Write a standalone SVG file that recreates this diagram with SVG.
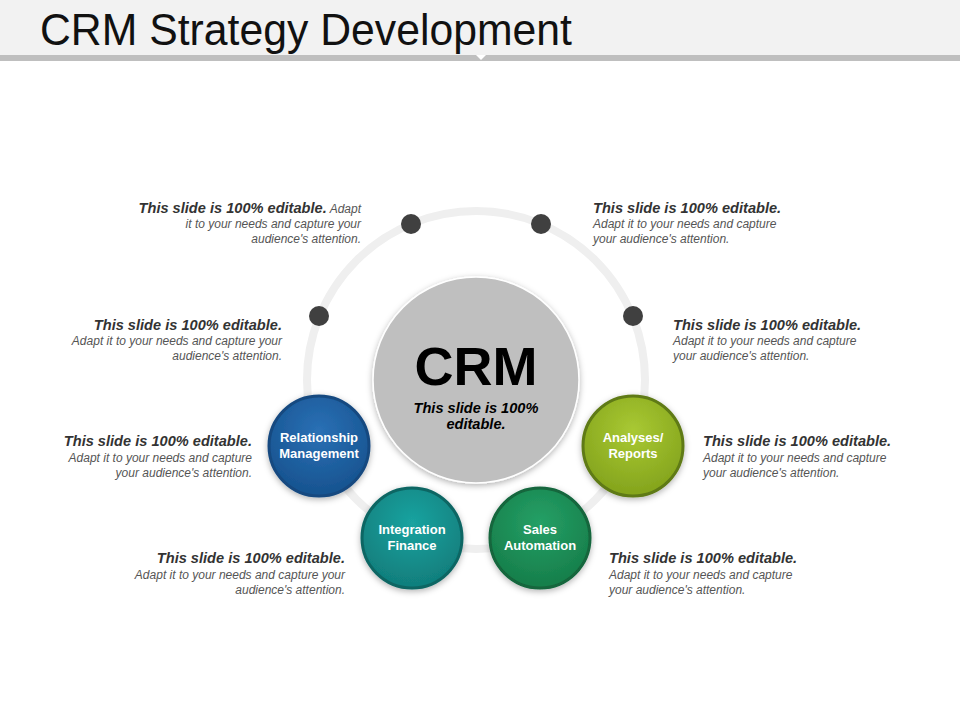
<svg xmlns="http://www.w3.org/2000/svg" width="960" height="720" viewBox="0 0 960 720">
<defs>
<style>
.b{font-family:"Liberation Sans",Arial,sans-serif;font-weight:bold;font-style:italic;font-size:14.6px;fill:#333}
.r{font-family:"Liberation Sans",Arial,sans-serif;font-style:italic;font-size:12px;fill:#555}
.n{font-family:"Liberation Sans",Arial,sans-serif;font-weight:bold;font-size:13px;fill:#fff;text-anchor:middle}
.e{text-anchor:end}
.dot{fill:#404040}
</style>
<radialGradient id="gB" cx="50%" cy="35%" r="60%"><stop offset="0" stop-color="#2a70b5"/><stop offset="1" stop-color="#185592"/></radialGradient>
<radialGradient id="gT" cx="50%" cy="35%" r="60%"><stop offset="0" stop-color="#1aa3a0"/><stop offset="1" stop-color="#11807e"/></radialGradient>
<radialGradient id="gS" cx="50%" cy="35%" r="60%"><stop offset="0" stop-color="#25a066"/><stop offset="1" stop-color="#17804c"/></radialGradient>
<radialGradient id="gA" cx="50%" cy="35%" r="60%"><stop offset="0" stop-color="#a9c933"/><stop offset="1" stop-color="#86a61e"/></radialGradient>
<filter id="sh" x="-20%" y="-20%" width="140%" height="140%"><feDropShadow dx="0" dy="2" stdDeviation="3" flood-color="#000" flood-opacity="0.3"/></filter>
</defs>
<rect width="960" height="720" fill="#fff"/>
<g id="header">
<rect x="0" y="0" width="960" height="55" fill="#f2f2f2"/>
<rect x="0" y="55" width="960" height="6" fill="#bfbfbf"/>
<polygon points="476,55 486,55 481,60" fill="#fff"/>
<text x="40" y="45" font-family="'Liberation Sans',Arial,sans-serif" font-size="45" fill="#111" textLength="532" lengthAdjust="spacingAndGlyphs">CRM Strategy Development</text>
</g>
<g id="connectors">
<circle cx="476" cy="380" r="169" fill="none" stroke="#efefef" stroke-width="8"/>
</g>
<g id="dots">
<circle class="dot" cx="411" cy="224" r="10"/>
<circle class="dot" cx="541" cy="224" r="10"/>
<circle class="dot" cx="319" cy="316" r="10"/>
<circle class="dot" cx="633" cy="316" r="10"/>
</g>
<g id="crm">
<circle cx="476" cy="380" r="103" fill="#bfbfbf" stroke="#fff" stroke-width="1.5" filter="url(#sh)"/>
<text x="476" y="385" font-family="'Liberation Sans',Arial,sans-serif" font-weight="bold" font-size="54" fill="#000" text-anchor="middle">CRM</text>
<text x="476" y="413" class="b" text-anchor="middle" style="fill:#000">This slide is 100%</text>
<text x="476" y="429" class="b" text-anchor="middle" style="fill:#000">editable.</text>
</g>
<g id="relationship">
<circle cx="319" cy="446" r="50" fill="url(#gB)" stroke="#164a80" stroke-width="3" filter="url(#sh)"/>
<text class="n" x="319" y="442">Relationship</text>
<text class="n" x="319" y="458">Management</text>
</g>
<g id="integration">
<circle cx="412" cy="538" r="50" fill="url(#gT)" stroke="#0d6664" stroke-width="3" filter="url(#sh)"/>
<text class="n" x="412" y="534">Integration</text>
<text class="n" x="412" y="550">Finance</text>
</g>
<g id="sales">
<circle cx="540" cy="538" r="50" fill="url(#gS)" stroke="#12663c" stroke-width="3" filter="url(#sh)"/>
<text class="n" x="540" y="534">Sales</text>
<text class="n" x="540" y="550">Automation</text>
</g>
<g id="analyses">
<circle cx="633" cy="446" r="50" fill="url(#gA)" stroke="#5e7a14" stroke-width="3" filter="url(#sh)"/>
<text class="n" x="633" y="442">Analyses/</text>
<text class="n" x="633" y="458">Reports</text>
</g>
<g id="text-top-left">
<text class="e" x="361" y="213"><tspan class="b">This slide is 100% editable.</tspan><tspan class="r"> Adapt</tspan></text>
<text class="r e" x="361" y="228">it to your needs and capture your</text>
<text class="r e" x="361" y="243">audience's attention.</text>
</g>
<g id="text-top-right">
<text class="b" x="593" y="213">This slide is 100% editable.</text>
<text class="r" x="593" y="228">Adapt it to your needs and capture</text>
<text class="r" x="593" y="243">your audience's attention.</text>
</g>
<g id="text-mid-left">
<text class="b e" x="282" y="330">This slide is 100% editable.</text>
<text class="r e" x="282" y="345">Adapt it to your needs and capture your</text>
<text class="r e" x="282" y="360">audience's attention.</text>
</g>
<g id="text-mid-right">
<text class="b" x="673" y="330">This slide is 100% editable.</text>
<text class="r" x="673" y="345">Adapt it to your needs and capture</text>
<text class="r" x="673" y="360">your audience's attention.</text>
</g>
<g id="text-low-left">
<text class="b e" x="252" y="446">This slide is 100% editable.</text>
<text class="r e" x="252" y="462">Adapt it to your needs and capture</text>
<text class="r e" x="252" y="477">your audience's attention.</text>
</g>
<g id="text-low-right">
<text class="b" x="703" y="446">This slide is 100% editable.</text>
<text class="r" x="703" y="462">Adapt it to your needs and capture</text>
<text class="r" x="703" y="477">your audience's attention.</text>
</g>
<g id="text-bottom-left">
<text class="b e" x="345" y="563">This slide is 100% editable.</text>
<text class="r e" x="345" y="579">Adapt it to your needs and capture your</text>
<text class="r e" x="345" y="594">audience's attention.</text>
</g>
<g id="text-bottom-right">
<text class="b" x="609" y="563">This slide is 100% editable.</text>
<text class="r" x="609" y="579">Adapt it to your needs and capture</text>
<text class="r" x="609" y="594">your audience's attention.</text>
</g>
</svg>
